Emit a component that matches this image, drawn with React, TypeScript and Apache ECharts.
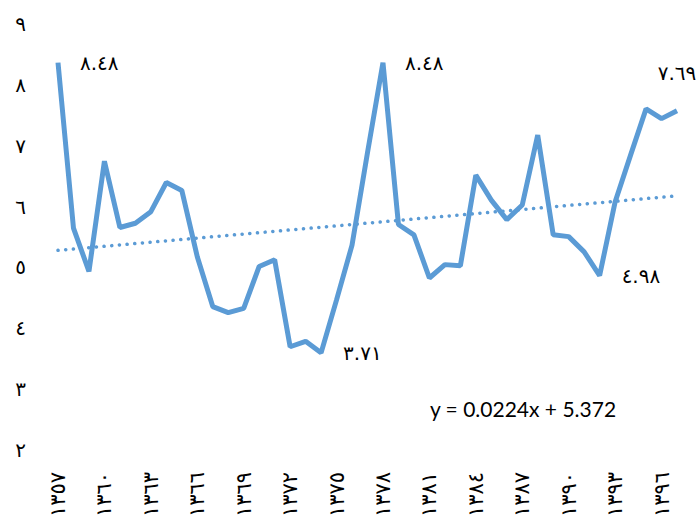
import React, { useEffect, useRef } from "react";
import * as echarts from "echarts";

// Years of the record (solar hijri calendar)
const years: number[] = [
  1357, 1358, 1359, 1360, 1361, 1362, 1363, 1364, 1365, 1366, 1367, 1368, 1369, 1370,
  1371, 1372, 1373, 1374, 1375, 1376, 1377, 1378, 1379, 1380, 1381, 1382, 1383, 1384,
  1385, 1386, 1387, 1388, 1389, 1390, 1391, 1392, 1393, 1394, 1395, 1396, 1397,
];

// Annual values
const values: number[] = [
  8.48, 5.76, 5.05, 6.86, 5.77, 5.84, 6.03, 6.51, 6.38, 5.29, 4.47, 4.37, 4.44, 5.13,
  5.24, 3.81, 3.9, 3.71, 4.58, 5.48, 7.0, 8.48, 5.82, 5.65, 4.94, 5.16, 5.14, 6.63,
  6.22, 5.9, 6.14, 7.29, 5.65, 5.62, 5.37, 4.98, 6.19, 6.96, 7.72, 7.56, 7.69,
];

// Points whose values are written beside the line, and where
const labelledRight: number[] = [0, 17, 21, 35];
const labelledTop: number[] = [40];

// Linear trend: y = slope * x + intercept, x counted from 1
const trendSlope = 0.0224;
const trendIntercept = 5.372;
const trendText = "y = 0.0224x + 5.372";

const yMin = 2;
const yMax = 9;

const arabicDigits = "٠١٢٣٤٥٦٧٨٩";
const toArabic = (s: string | number): string =>
  String(s).replace(/[0-9]/g, (d) => arabicDigits[Number(d)]);

const BLUE = "#5B9BD5";
const DIGIT_FONT = "'DejaVu Sans', sans-serif";

export default function App() {
  const ref = useRef<HTMLDivElement>(null);

  useEffect(() => {
    if (!ref.current) return;
    const chart = echarts.init(ref.current, undefined, { renderer: "svg" });

    const lineData = values.map((v, i) => {
      if (labelledRight.includes(i)) {
        return { value: v, label: { show: true, position: "right", distance: 22 } };
      }
      if (labelledTop.includes(i)) {
        return { value: v, label: { show: true, position: "top", distance: 28 } };
      }
      return v;
    });

    const n = values.length;
    const trendData: (number | null)[] = values.map(() => null);
    trendData[0] = trendSlope * 1 + trendIntercept;
    trendData[n - 1] = trendSlope * n + trendIntercept;

    chart.setOption({
      animation: false,
      backgroundColor: "#ffffff",
      grid: { left: 58, right: 22, top: 31, bottom: 57, containLabel: false },
      xAxis: {
        type: "category",
        boundaryGap: false,
        data: years.map((y) => toArabic(y)),
        axisLine: { show: false },
        axisTick: { show: false },
        splitLine: { show: false },
        axisLabel: {
          interval: 2,
          rotate: 90,
          margin: 15,
          fontSize: 21,
          color: "#000",
          fontFamily: DIGIT_FONT,
        },
      },
      yAxis: {
        type: "value",
        min: yMin,
        max: yMax,
        interval: 1,
        axisLine: { show: false },
        axisTick: { show: false },
        splitLine: { show: false },
        axisLabel: {
          margin: 32,
          fontSize: 20,
          lineHeight: 14,
          verticalAlign: "bottom",
          color: "#000",
          fontFamily: DIGIT_FONT,
          formatter: (v: number) => toArabic(v),
        },
      },
      series: [
        {
          type: "line",
          data: lineData,
          symbol: "circle",
          symbolSize: 0,
          showSymbol: true,
          itemStyle: { color: BLUE },
          lineStyle: { color: BLUE, width: 5 },
          label: {
            show: false,
            fontSize: 20,
            color: "#000",
            fontFamily: DIGIT_FONT,
            formatter: (p: any) => toArabic(Number(p.value).toFixed(2)),
          },
          z: 3,
        },
        {
          type: "line",
          data: trendData,
          connectNulls: true,
          symbol: "none",
          lineStyle: { color: BLUE, width: 3.5, type: [0.1, 7.6], cap: "round" },
          z: 2,
        },
      ],
      graphic: [
        {
          type: "text",
          x: 523,
          y: 408,
          style: {
            text: trendText,
            fontSize: 21,
            fontFamily: "Lato, 'Open Sans', sans-serif",
            fill: "#000",
            align: "center",
            verticalAlign: "middle",
          },
        },
      ],
    });

    return () => chart.dispose();
  }, []);

  return (
    <div
      ref={ref}
      style={{ position: "fixed", left: 0, top: 0, width: 699, height: 520, background: "#fff" }}
    />
  );
}
